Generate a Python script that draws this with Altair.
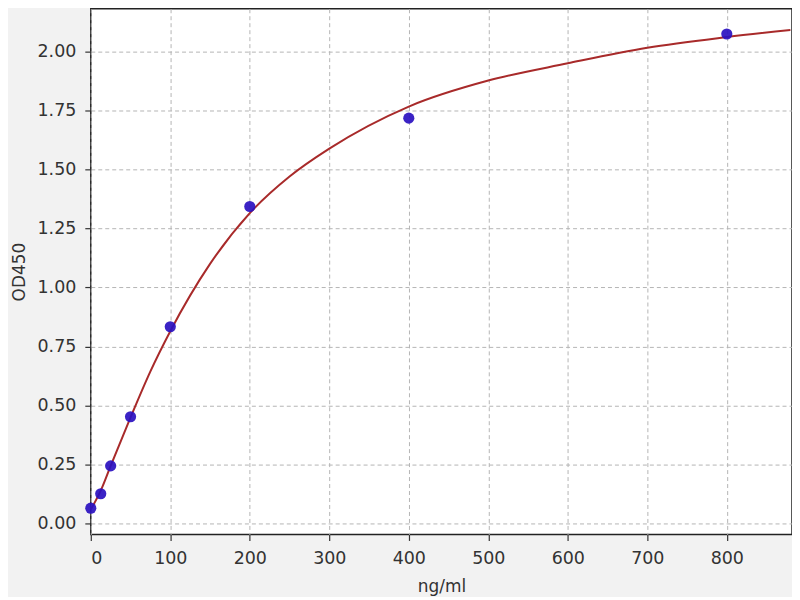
import altair as alt
import pandas as pd

# Standard points
std_conc = [0, 12.5, 25, 50, 100, 200, 400, 800]
std_od = [0.066, 0.127, 0.245, 0.453, 0.834, 1.343, 1.717, 2.073]

# Fitted curve, values
curve_conc = [0, 12.5, 25, 50, 75, 100, 150, 200, 250, 300, 400, 500, 600, 700, 800, 880]
curve_od = [0.06, 0.14, 0.245, 0.45, 0.645, 0.815, 1.10, 1.315, 1.47, 1.588, 1.766, 1.876, 1.949, 2.015, 2.06, 2.09]

pts = pd.DataFrame({"x": std_conc, "y": std_od})
crv = pd.DataFrame({"x": curve_conc, "y": curve_od})

font = "DejaVu Sans"
xscale = alt.Scale(domain=[0, 882], nice=False, zero=False)
yscale = alt.Scale(domain=[-0.045, 2.18], nice=False, zero=False)

common = dict(grid=True, gridDash=[4, 3], gridColor="#b5b5b5", gridWidth=1,
              domain=False, ticks=True, tickSize=6, tickColor="#333", tickWidth=1.2,
              labelFontSize=17.5, labelColor="#333", labelFont=font,
              titleFontSize=17, titleFont=font, titleColor="#333", titleFontWeight="normal")

xaxis = alt.Axis(title="ng/ml", values=list(range(0, 900, 100)), format="d",
                 labelPadding=9, titlePadding=12, **common)
yaxis = alt.Axis(title="OD450", values=[0, 0.25, 0.5, 0.75, 1.0, 1.25, 1.5, 1.75, 2.0], format=".2f",
                 labelPadding=9, titlePadding=8, **common)

line = alt.Chart(crv).mark_line(color="#a82a2a", strokeWidth=2, interpolate="monotone").encode(
    x=alt.X("x:Q", scale=xscale, axis=xaxis),
    y=alt.Y("y:Q", scale=yscale, axis=yaxis),
)
points = alt.Chart(pts).mark_point(filled=True, color="#2a10c0", size=125, opacity=0.92).encode(
    x=alt.X("x:Q", scale=xscale),
    y=alt.Y("y:Q", scale=yscale),
)

chart = alt.layer(line, points).properties(
    width=703, height=527,
    autosize=alt.AutoSizeParams(type="none"),
    padding={"left": 83, "top": 0, "right": 0, "bottom": 62},
    background="#f2f2f2",
).configure_view(fill="white", stroke="#222", strokeWidth=1.5)

chart.save("out.html", embed_options={"renderer": "svg", "actions": False})
